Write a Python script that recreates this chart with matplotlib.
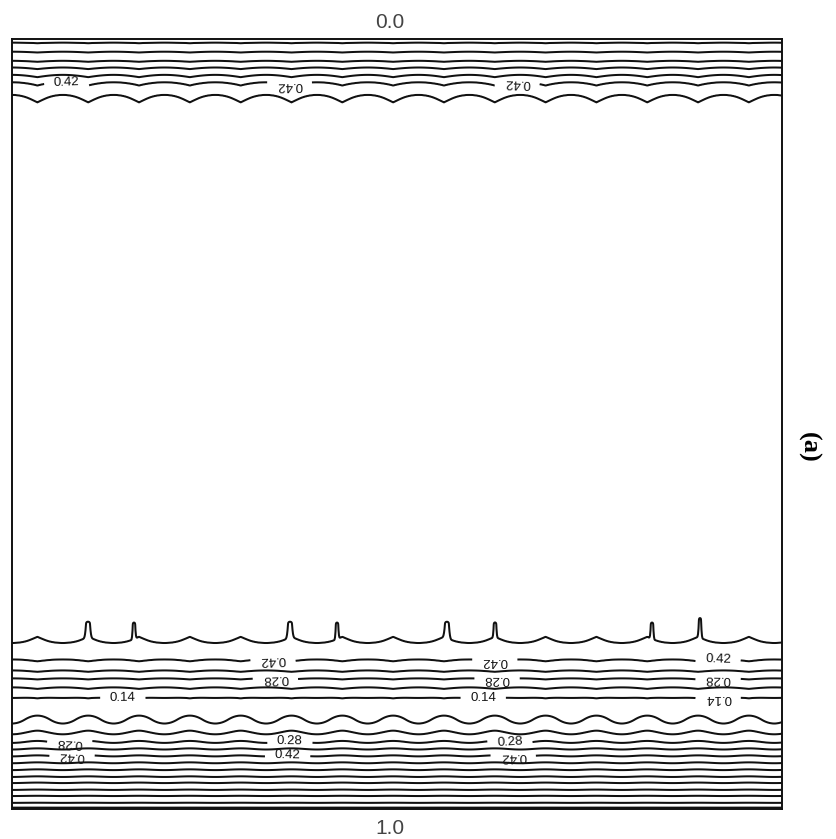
import numpy as np
import matplotlib
matplotlib.use("Agg")
import matplotlib.pyplot as plt

# ---------------- data ----------------
# depth across the frame: 0.0 = top wall, 1.0 = bottom wall
profile_depth = [0.000, 0.005, 0.017, 0.029, 0.038, 0.048, 0.058, 0.077, 0.105,
                 0.729, 0.757, 0.781, 0.807, 0.821, 0.831, 0.843, 0.856, 0.870,
                 0.884, 0.901, 0.913, 0.922, 0.931, 0.940, 0.949, 0.958, 0.966,
                 0.975, 0.983, 0.992, 1.000]
profile_value = [0.00, 0.07, 0.14, 0.21, 0.28, 0.35, 0.42, 0.49, 0.53,
                 0.53, 0.52, 0.49, 0.42, 0.35, 0.28, 0.21, 0.14, 0.10,
                 0.14, 0.21, 0.28, 0.35, 0.42, 0.49, 0.56, 0.63, 0.70,
                 0.77, 0.84, 0.91, 1.00]

# waviness of the contours (cusped wave and smooth wave), amplitude vs depth
wave_length = 0.066
wave_origin = 0.099
cusp_amp_depth = [0.000, 0.030, 0.058, 0.077, 0.100, 0.740, 0.758, 0.781,
                  0.795, 0.807, 0.830, 0.856, 0.870, 1.000]
cusp_amp = [0.0006, 0.0013, 0.0039, 0.0104, 0.0104, -0.0091, -0.0091, -0.0091,
            0.0, 0.0026, 0.0013, 0.0026, 0.0, 0.0]
smooth_amp_depth = [0.000, 0.850, 0.870, 0.884, 0.900, 0.920, 1.000]
smooth_amp = [0.0, 0.0, 0.0070, 0.0125, 0.0045, 0.0015, 0.0]

# thin spikes rising from the lower 0.49 contour
spike_x = [0.0987, 0.1584, 0.3610, 0.4221, 0.5649, 0.6273, 0.8312, 0.8935]
spike_top = [0.757, 0.758, 0.757, 0.758, 0.757, 0.758, 0.758, 0.752]
spike_width = [0.0026, 0.0016, 0.0026, 0.0016, 0.0026, 0.0016, 0.0016, 0.0016]
spike_base = 0.781

contour_levels = [0.07, 0.14, 0.21, 0.28, 0.35, 0.42, 0.49, 0.56, 0.63,
                  0.70, 0.77, 0.84, 0.91, 0.98]
labeled_levels = [0.14, 0.28, 0.42]

label_x = [0.071, 0.361, 0.656,
           0.339, 0.342, 0.144, 0.075, 0.078, 0.361, 0.358,
           0.627, 0.630, 0.612, 0.917, 0.917, 0.917, 0.647, 0.651]
label_y = [0.058, 0.058, 0.058,
           0.807, 0.832, 0.858, 0.914, 0.932, 0.914, 0.932,
           0.809, 0.832, 0.858, 0.809, 0.832, 0.858, 0.910, 0.930]
label_flip = [False, True, True,
              True, True, False, True, True, False, False,
              True, True, False, False, True, True, False, True]

top_text = "0.0"
bottom_text = "1.0"
panel_text = "(a)"

# ---------------- field ----------------
x = np.linspace(0, 1, 1541)
d = np.linspace(0, 1, 1541)
X, D = np.meshgrid(x, d)

phase = np.pi * (X - wave_origin) / wave_length
cusp = np.abs(np.sin(phase)) - 0.5
smooth = 0.5 * np.cos(2 * phase)
shift = (np.interp(D, cusp_amp_depth, cusp_amp) * cusp
         + np.interp(D, smooth_amp_depth, smooth_amp) * smooth)
Z = np.interp(D + shift, profile_depth, profile_value)

def sig(t):
    return 0.5 * (1 + np.tanh(t))

s = 0.0013
for xs, top, w in zip(spike_x, spike_top, spike_width):
    Z -= (0.06 * np.exp(-((X - xs) / w) ** 2)
          * sig((D - top) / s) * sig((spike_base - D) / s))

# ---------------- plot ----------------
fig = plt.figure(figsize=(8.36, 8.39), dpi=100)
ax = fig.add_axes([12 / 836, 30 / 839, 770 / 836, 770 / 839])
plain_levels = [v for v in contour_levels if v not in labeled_levels]
ax.contour(X, D, Z, levels=plain_levels, colors="#111111", linewidths=1.45)
cs = ax.contour(X, D, Z, levels=labeled_levels, colors="#111111", linewidths=1.45)
texts = ax.clabel(cs, manual=list(zip(label_x, label_y)),
                  inline=True, inline_spacing=8, fmt="%.2f", fontsize=9.5)
for t, flip in zip(texts, label_flip):
    t.set_family("Liberation Sans")
    if flip:
        t.set_rotation(t.get_rotation() + 180)

ax.set_xlim(0, 1)
ax.set_ylim(1, 0)
ax.set_xticks([])
ax.set_yticks([])
for sp in ax.spines.values():
    sp.set_linewidth(1.4)
    sp.set_color("#111111")

ax.text(0.491, 1.022, top_text, transform=ax.transAxes, ha="center", va="center",
        fontsize=15, color="#444444", family="Liberation Sans")
ax.text(0.491, -0.025, bottom_text, transform=ax.transAxes, ha="center", va="center",
        fontsize=15, color="#444444", family="Liberation Sans")
ax.text(1.034, 0.47, panel_text, transform=ax.transAxes, ha="center", va="center",
        fontsize=19, fontweight="bold", rotation=-90, family="Liberation Serif")

fig.savefig("out.png", dpi=100)
